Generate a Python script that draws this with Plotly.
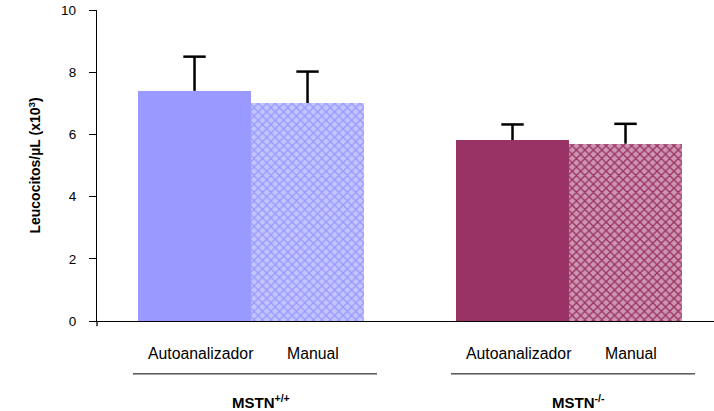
import plotly.graph_objects as go

# Leukocyte counts (x10^3 per µL) by genotype and counting method
groups = ["MSTN<sup>+/+</sup>", "MSTN<sup>-/-</sup>"]
methods = ["Autoanalizador", "Manual"]
group_colors = ["#9999FF", "#993366"]
group_tints = ["#C4C4FF", "#CE96B2"]
auto_values = [7.40, 5.82]
auto_sd = [1.10, 0.50]
manual_values = [7.01, 5.70]
manual_sd = [1.01, 0.64]

group_step = 2.814  # distance between group starts, in bar widths

def xpos(g, m):
    return g * group_step + m

fig = go.Figure()

FONT = "Liberation Sans, Arial"
n = len(groups)
values = [auto_values, manual_values]
sds = [auto_sd, manual_sd]

for g in range(n):
    for m in range(len(methods)):
        if m == 0:
            marker = dict(color=group_colors[g], line=dict(width=0))
        else:
            marker = dict(color=group_colors[g], line=dict(width=0),
                          pattern=dict(shape="x", fgcolor=group_colors[g],
                                       bgcolor=group_tints[g], fillmode="replace",
                                       size=6, solidity=0.4))
        fig.add_trace(go.Bar(x=[xpos(g, m)], y=[values[m][g]], width=1.0,
                             marker=marker, showlegend=False))

# upper-only error whiskers: stem from bar top, cap at value + SD
for m in range(len(methods)):
    xs = [xpos(g, m) for g in range(n)]
    stem_x, stem_y = [], []
    for x, v, s in zip(xs, values[m], sds[m]):
        stem_x += [x, x, None]
        stem_y += [v, v + s, None]
    fig.add_trace(go.Scatter(x=stem_x, y=stem_y, mode="lines",
                             line=dict(color="black", width=2.5),
                             hoverinfo="skip", showlegend=False))
    fig.add_trace(go.Scatter(x=xs, y=[v + s for v, s in zip(values[m], sds[m])],
                             mode="markers",
                             marker=dict(symbol="line-ew", size=16,
                                         line=dict(color="black", width=2.5)),
                             hoverinfo="skip", showlegend=False))

# Method labels under each bar and genotype labels under each group
for g in range(n):
    for m, name in enumerate(methods):
        fig.add_annotation(x=xpos(g, m) + 0.05, y=-0.105, xref="x", yref="paper",
                           xanchor="center", yanchor="middle",
                           text=name, showarrow=False,
                           font=dict(family=FONT, size=15.8, color="black"))
    center = xpos(g, 0.5) + 0.035
    fig.add_shape(type="line", xref="x", yref="paper",
                  x0=center - 1.08, x1=center + 1.08, y0=-0.170, y1=-0.170,
                  line=dict(color="black", width=1))
    fig.add_annotation(x=center + 0.05, y=-0.26, xref="x", yref="paper",
                       xanchor="center", yanchor="middle",
                       text="<b>" + groups[g] + "</b>", showarrow=False,
                       font=dict(family=FONT, size=15, color="black"))

# Short extension of the y axis below the baseline
fig.add_shape(type="line", xref="paper", yref="paper", x0=0, x1=0, y0=0, y1=-0.017,
              line=dict(color="black", width=1.3))

fig.add_annotation(x=-0.102, y=0.5, xref="paper", yref="paper", textangle=-90,
                   xanchor="center", yanchor="middle",
                   text="<b>Leucocitos/µL (x10<sup>3</sup>)</b>", showarrow=False,
                   font=dict(family=FONT, size=14, color="black"))

fig.update_layout(
    width=714, height=411,
    margin=dict(l=97, r=0, t=10, b=90),
    plot_bgcolor="white", paper_bgcolor="white",
    bargap=0,
    xaxis=dict(range=[-0.863, 4.597], showticklabels=False, ticks="",
               showgrid=False, zeroline=False, showline=True,
               linecolor="black", linewidth=1.3),
    yaxis=dict(range=[0, 10], tickvals=[0, 2, 4, 6, 8, 10], ticks="outside",
               ticklen=7, tickcolor="black", tickwidth=1.3,
               showgrid=False, zeroline=False, showline=True,
               linecolor="black", linewidth=1.3, ticklabelstandoff=10,
               tickfont=dict(family=FONT, size=13.5, color="black")),
)

fig.write_html("out.html")
